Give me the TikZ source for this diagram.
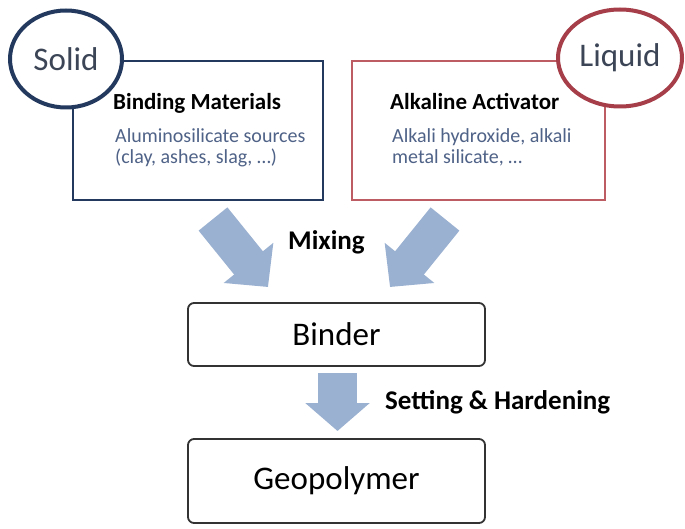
\documentclass[tikz,border=0pt]{standalone}
\usepackage{fontspec}
\setmainfont{Carlito}
\usepackage{tikz}
\usetikzlibrary{arrows.meta, shapes.geometric, positioning}
\definecolor{navy}{RGB}{35,58,94}
\definecolor{wine}{RGB}{165,62,72}
\definecolor{winebox}{RGB}{190,92,100}
\definecolor{arrowblue}{RGB}{155,177,209}
\definecolor{desctext}{RGB}{79,98,135}
\definecolor{ringtext}{RGB}{59,69,86}
\tikzset{
  srcbox/.style={draw, line width=2pt, fill=white, minimum width=250pt, minimum height=139pt},
  ring/.style={ellipse, draw, line width=4pt, fill=white, minimum width=112pt, minimum height=97pt,
    text=ringtext, font=\fontsize{33}{38}\selectfont},
  stagebox/.style={draw=black!80, line width=1.8pt, rounded corners=6pt, fill=white,
    minimum width=297pt, font=\fontsize{33}{38}\selectfont},
  title/.style={anchor=base west, inner sep=0pt, font=\fontsize{23}{26}\selectfont\bfseries},
  desc/.style={anchor=base west, inner sep=0pt, align=left, text=desctext,
    font=\fontsize{20}{21}\selectfont},
  steplabel/.style={anchor=base west, inner sep=0pt, font=\fontsize{27}{30}\selectfont\bfseries},
  fatarrow/.style={arrowblue, line width=37pt, -{Triangle[length=31pt,width=62pt]}}
}
\begin{document}
\begin{tikzpicture}[x=1pt, y=-1pt]
  \useasboundingbox (0,0) rectangle (685,529);
  \node[srcbox, draw=navy] (binding) at (198,130.5) {};
  \node[srcbox, draw=winebox, minimum width=253pt] (activator) at (478.5,130.5) {};
  \node[ring, draw=navy] (solid) at (66,59) {Solid};
  \node[ring, draw=wine] (liquid) at (620,58) {Liquid};

  \node[title] (bindtitle) at (113,110) {Binding Materials};
  \node[desc] (binddesc) at (115,164) {Aluminosilicate sources\\(clay, ashes, slag, \dots)};
  \node[title] (acttitle) at (390,110) {Alkaline Activator};
  \node[desc] (actdesc) at (392,164) {Alkali hydroxide, alkali\\metal silicate, \dots};

  \node[stagebox, minimum height=63pt] (binder) at (336.5,334.5) {Binder};
  \node[stagebox, minimum height=84pt] (geo) at (336.5,481) {Geopolymer};

  \coordinate (mixL) at (213,219);
  \coordinate (mixLend) at (268,287);
  \coordinate (mixR) at (445,219);
  \coordinate (mixRend) at (390,287);
  \coordinate (setA) at (337.5,373);
  \coordinate (setB) at (337.5,431);
  \draw[fatarrow] (mixL) -- (mixLend);
  \draw[fatarrow] (mixR) -- (mixRend);
  \draw[fatarrow, line width=39pt, -{Triangle[length=28pt,width=63pt]}] (setA) -- (setB);

  \node[steplabel] (mixing) at (288,250) {Mixing};
  \node[steplabel] (setting) at (385,409) {Setting \& Hardening};
\end{tikzpicture}
\end{document}
